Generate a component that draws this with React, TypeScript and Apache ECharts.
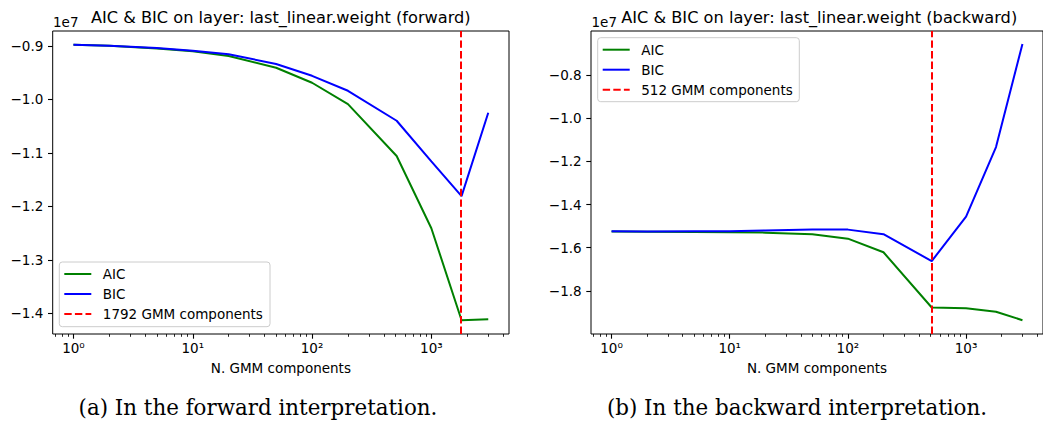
import React, { useEffect, useRef } from "react";
import * as echarts from "echarts";

// ---- data (values in units of 1e7) ----
const nComponents = [1, 2, 5, 10, 20, 50, 100, 200, 512, 1000, 1792, 3000];
const aicForward = [-0.898, -0.9, -0.905, -0.91, -0.919, -0.941, -0.969, -1.009, -1.106, -1.241, -1.413, -1.411];
const bicForward = [-0.898, -0.9, -0.904, -0.909, -0.9155, -0.934, -0.956, -0.984, -1.04, -1.116, -1.181, -1.025];
const aicBackward = [-1.525, -1.526, -1.527, -1.528, -1.53, -1.537, -1.558, -1.621, -1.877, -1.881, -1.897, -1.936];
const bicBackward = [-1.524, -1.525, -1.524, -1.523, -1.52, -1.516, -1.516, -1.537, -1.662, -1.456, -1.133, -0.655];
const bestForward = 1792;
const bestBackward = 512;

const titleForward = "AIC & BIC on layer: last_linear.weight (forward)";
const titleBackward = "AIC & BIC on layer: last_linear.weight (backward)";
const captionForward = "(a) In the forward interpretation.";
const captionBackward = "(b) In the backward interpretation.";
const xAxisName = "N. GMM components";
const offsetText = "1e7";
const legendNames = ["AIC", "BIC"];

const xMajorExponents = [0, 1, 2, 3];
const yTicksForward = [-1.4, -1.3, -1.2, -1.1, -1.0, -0.9];
const yTicksBackward = [-1.8, -1.6, -1.4, -1.2, -1.0, -0.8];

// axis limits (log10 space for x)
const X_MIN = -0.174;
const X_MAX = 3.651;
const Y_FORWARD: [number, number] = [-1.4388, -0.8722];
const Y_BACKWARD: [number, number] = [-2.0, -0.595];

const FONT = "DejaVu Sans";
const FS = 13.5;
const GREEN = "#008000";
const BLUE = "#0000ff";
const RED = "#ff0000";
const DASH = [7.4, 3.2];

const minorTicks: number[] = [];
for (let k = -1; k <= 3; k++) {
  for (let m = 2; m <= 9; m++) {
    const v = Math.log10(m * Math.pow(10, k));
    if (v > X_MIN && v < X_MAX) minorTicks.push(v);
  }
}

const SUP: Record<number, string> = { 0: "\u2070", 1: "\u00b9", 2: "\u00b2", 3: "\u00b3" };
const fmtY = (v: number) => (v < 0 ? "\u2212" : "") + Math.abs(v).toFixed(1);
const fmtX = (v: number) => "10" + SUP[Math.round(v)];

const toPts = (ys: number[]) => nComponents.map((n, i) => [Math.log10(n), ys[i]]);

const GRIDS = [
  { left: 52.7, top: 31, width: 456.3, height: 303 },
  { left: 591, top: 31, width: 456.3, height: 303 },
];

function mainX(gridIndex: number) {
  return {
    type: "value",
    gridIndex,
    position: "bottom",
    min: X_MIN,
    max: X_MAX,
    axisLine: { show: false, onZero: false },
    splitLine: { show: false },
    axisTick: { show: true, customValues: xMajorExponents, length: 4.7, lineStyle: { color: "#000", width: 1.1 } },
    axisLabel: {
      customValues: xMajorExponents,
      formatter: fmtX,
      fontSize: FS,
      fontFamily: FONT,
      color: "#000",
      margin: 7,
    },
    name: xAxisName,
    nameLocation: "middle",
    nameGap: 27,
    nameTextStyle: { fontSize: FS, fontFamily: FONT, color: "#000" },
  };
}
function minorX(gridIndex: number) {
  return {
    type: "value",
    gridIndex,
    position: "bottom",
    min: X_MIN,
    max: X_MAX,
    axisLine: { show: false, onZero: false },
    splitLine: { show: false },
    axisLabel: { show: false },
    axisTick: { show: true, customValues: minorTicks, length: 2.8, lineStyle: { color: "#000", width: 0.85 } },
  };
}
function yAx(gridIndex: number, ext: [number, number], ticks: number[]) {
  return {
    type: "value",
    gridIndex,
    position: "left",
    min: ext[0],
    max: ext[1],
    axisLine: { show: false, onZero: false },
    splitLine: { show: false },
    axisTick: { show: true, customValues: ticks, length: 4.7, lineStyle: { color: "#000", width: 1.1 } },
    axisLabel: { customValues: ticks, formatter: fmtY, fontSize: FS, fontFamily: FONT, color: "#000", margin: 9.4 },
  };
}

const lineSeries = (name: string, ys: number[], color: string, xi: number, yi: number) => ({
  type: "line",
  name,
  xAxisIndex: xi,
  yAxisIndex: yi,
  data: toPts(ys),
  symbol: "none",
  showSymbol: false,
  lineStyle: { color, width: 2 },
  itemStyle: { color },
  silent: true,
});

const vline = (name: string, x: number, xi: number, yi: number) => ({
  type: "line",
  name,
  xAxisIndex: xi,
  yAxisIndex: yi,
  data: [],
  symbol: "none",
  lineStyle: { color: RED, width: 2, type: DASH },
  itemStyle: { color: RED },
  markLine: {
    silent: true,
    symbol: ["none", "none"],
    label: { show: false },
    lineStyle: { color: RED, width: 2, type: DASH },
    emphasis: { disabled: true },
    data: [{ xAxis: Math.log10(x) }],
  },
});

const txt = (text: string, x: number, y: number, fontSize: number, family = FONT, align = "center") => ({
  type: "text",
  x,
  y,
  silent: true,
  style: { text, fontSize, fontFamily: family, fill: "#000", align, verticalAlign: "middle" },
});

// legend drawn as graphic: box at (bx, by) of size (bw, bh), rows starting at y0
function legendGraphic(bx: number, by: number, bw: number, bh: number, labels: string[]) {
  const colors = [GREEN, BLUE, RED];
  const els: any[] = [
    {
      type: "rect",
      silent: true,
      shape: { x: bx, y: by, width: bw, height: bh, r: 3 },
      style: { fill: "rgba(255,255,255,0.8)", stroke: "#cccccc", lineWidth: 1 },
      z: 10,
    },
  ];
  labels.forEach((lab, i) => {
    const y = by + 12 + i * 20;
    els.push({
      type: "line",
      silent: true,
      shape: { x1: bx + 5, y1: y, x2: bx + 32, y2: y },
      style: { stroke: colors[i], lineWidth: 2, lineDash: i === 2 ? DASH : null },
      z: 11,
    });
    els.push({ ...txt(lab, bx + 43.5, y, FS, FONT, "left"), z: 11 });
  });
  return els;
}

export default function App() {
  const ref = useRef<HTMLDivElement>(null);
  useEffect(() => {
    if (!ref.current) return;
    const chart = echarts.init(ref.current, undefined, { renderer: "svg" });
    const fwdLabel = `${bestForward} GMM components`;
    const bwdLabel = `${bestBackward} GMM components`;
    chart.setOption({
      animation: false,
      backgroundColor: "#ffffff",
      grid: GRIDS.map((g) => ({ ...g, show: true, borderColor: "#000", borderWidth: 1, backgroundColor: "transparent", containLabel: false })),
      xAxis: [mainX(0), minorX(0), mainX(1), minorX(1)],
      yAxis: [yAx(0, Y_FORWARD, yTicksForward), yAx(1, Y_BACKWARD, yTicksBackward)],
      series: [
        lineSeries("AIC", aicForward, GREEN, 0, 0),
        lineSeries("BIC", bicForward, BLUE, 0, 0),
        vline(fwdLabel, bestForward, 0, 0),
        lineSeries("AIC", aicBackward, GREEN, 2, 1),
        lineSeries("BIC", bicBackward, BLUE, 2, 1),
        vline(bwdLabel, bestBackward, 2, 1),
      ],
      graphic: [
        txt(titleForward, 280.8, 17, 16.2),
        txt(titleBackward, 819.2, 17, 16.2),
        txt(offsetText, 53, 21.5, FS, FONT, "left"),
        txt(offsetText, 591.5, 21.5, FS, FONT, "left"),
        txt(captionForward, 258, 407, 21.4, "DejaVu Serif"),
        txt(captionBackward, 797, 407, 21.4, "DejaVu Serif"),
        ...legendGraphic(59.3, 262, 210.7, 64.7, [...legendNames, fwdLabel]),
        ...legendGraphic(597.7, 37.7, 201.6, 64, [...legendNames, bwdLabel]),
      ],
    });
    return () => chart.dispose();
  }, []);
  return (
    <div
      ref={ref}
      style={{ position: "absolute", left: 0, top: 0, width: 1043, height: 421, background: "#fff" }}
    />
  );
}
